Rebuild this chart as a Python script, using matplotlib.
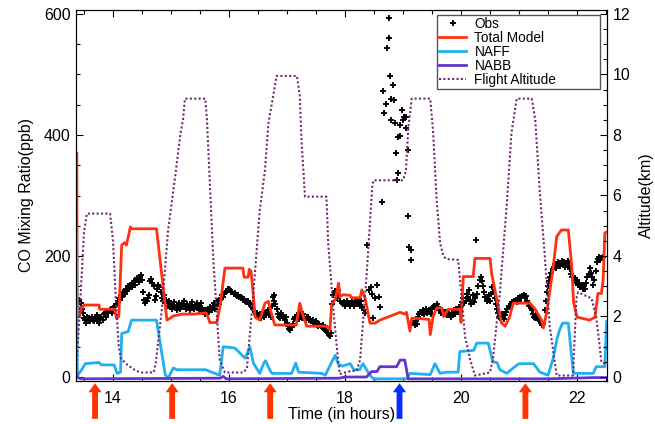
import matplotlib
matplotlib.use("Agg")
import matplotlib.pyplot as plt
from matplotlib.lines import Line2D
from matplotlib.ticker import MultipleLocator

plt.rcParams['font.family'] = ['Liberation Sans', 'DejaVu Sans']

# Observed CO (time in hours, ppb)
obs_points = [
    (13.40, 120), (13.42, 128), (13.44, 122), (13.46, 112), (13.48, 105), (13.50, 98),
    (13.52, 94), (13.54, 90), (13.56, 100), (13.58, 97), (13.60, 93), (13.62, 96),
    (13.64, 100), (13.66, 94), (13.68, 92), (13.70, 98), (13.72, 102), (13.74, 95),
    (13.76, 90), (13.78, 96), (13.80, 100), (13.82, 94), (13.84, 104), (13.86, 106),
    (13.88, 100), (13.90, 108), (13.92, 105), (13.94, 110), (13.96, 112), (13.98, 106),
    (14.00, 110), (14.02, 115), (14.04, 118), (14.06, 120), (14.08, 125),
    (14.10, 130), (14.12, 128), (14.14, 135), (14.16, 132), (14.18, 140), (14.20, 138),
    (14.22, 145), (14.24, 142), (14.26, 150), (14.28, 146), (14.30, 152), (14.32, 148),
    (14.34, 155), (14.36, 158), (14.38, 152), (14.40, 160), (14.42, 163), (14.44, 157),
    (14.46, 165), (14.48, 168), (14.50, 160), (14.52, 140), (14.54, 128), (14.56, 122),
    (14.58, 126), (14.60, 130), (14.62, 135), (14.64, 158), (14.66, 162), (14.68, 155),
    (14.70, 150), (14.72, 128), (14.74, 134), (14.76, 145), (14.78, 152), (14.80, 148),
    (14.82, 140), (14.84, 130), (14.86, 125), (14.88, 135), (14.90, 122), (14.92, 128),
    (14.94, 118), (14.96, 125), (14.98, 115),
    (15.00, 120), (15.02, 112), (15.04, 118), (15.06, 124), (15.08, 115), (15.10, 110),
    (15.12, 118), (15.14, 122), (15.16, 112), (15.18, 115), (15.20, 120), (15.22, 126),
    (15.24, 118), (15.26, 113), (15.28, 120), (15.30, 116), (15.32, 110), (15.34, 118),
    (15.36, 124), (15.38, 116), (15.40, 112), (15.42, 119), (15.44, 123), (15.46, 115),
    (15.48, 110), (15.50, 118), (15.52, 122), (15.54, 114), (15.56, 108), (15.58, 104),
    (15.60, 110), (15.62, 106), (15.64, 112), (15.66, 108), (15.68, 115), (15.70, 110),
    (15.72, 118), (15.74, 122), (15.76, 113), (15.78, 118), (15.80, 125), (15.82, 120),
    (15.84, 128), (15.86, 130), (15.88, 135), (15.90, 132), (15.92, 138), (15.94, 140),
    (15.96, 142), (15.98, 145), (16.00, 146), (16.02, 143), (16.04, 141), (16.06, 140),
    (16.08, 138), (16.10, 139), (16.12, 136), (16.14, 134), (16.16, 135), (16.18, 132),
    (16.20, 133), (16.22, 130), (16.24, 128), (16.26, 129), (16.28, 126), (16.30, 124),
    (16.32, 125), (16.34, 122), (16.36, 120), (16.38, 118), (16.40, 115), (16.42, 112),
    (16.44, 108), (16.46, 104), (16.48, 106), (16.50, 102), (16.52, 100), (16.54, 104),
    (16.56, 98), (16.58, 102), (16.60, 100), (16.62, 105), (16.64, 103), (16.66, 108),
    (16.68, 110), (16.70, 104), (16.72, 100), (16.74, 118), (16.76, 132), (16.77, 126),
    (16.78, 135), (16.80, 120), (16.82, 112), (16.84, 104), (16.86, 100), (16.88, 98),
    (16.90, 106), (16.92, 102), (16.94, 98), (16.96, 95), (16.98, 100), (17.00, 90),
    (17.02, 84), (17.04, 80), (17.06, 78), (17.08, 82), (17.10, 88), (17.12, 96),
    (17.14, 100), (17.16, 98), (17.18, 102), (17.20, 96), (17.22, 105), (17.24, 100),
    (17.26, 98), (17.28, 104), (17.30, 97), (17.32, 95), (17.34, 99), (17.36, 100),
    (17.38, 94), (17.40, 96), (17.42, 92), (17.44, 95), (17.46, 90), (17.48, 88),
    (17.50, 92), (17.52, 86), (17.54, 84), (17.56, 88), (17.58, 85), (17.60, 82),
    (17.62, 86), (17.64, 80), (17.66, 78), (17.68, 76), (17.70, 72), (17.72, 70),
    (17.74, 68), (17.76, 72), (17.78, 120), (17.80, 135), (17.82, 142), (17.84, 138),
    (17.86, 130), (17.88, 144), (17.90, 135), (17.92, 126), (17.94, 122), (17.96, 120),
    (17.98, 124), (18.00, 118), (18.02, 121), (18.04, 126), (18.06, 120), (18.08, 118),
    (18.10, 123), (18.12, 125), (18.14, 120), (18.16, 117), (18.18, 122), (18.20, 127),
    (18.22, 124), (18.24, 120), (18.26, 118), (18.28, 125), (18.30, 115), (18.32, 110),
    (18.34, 105), (18.38, 218), (18.41, 144), (18.44, 149), (18.47, 138), (18.49, 97),
    (18.52, 131), (18.55, 152), (18.58, 133), (18.60, 116),
    (18.64, 289), (18.66, 473), (18.68, 436), (18.71, 451), (18.73, 544), (18.75, 593),
    (18.76, 560), (18.78, 498), (18.79, 460), (18.80, 424), (18.82, 482), (18.84, 458),
    (18.86, 420), (18.88, 371), (18.89, 326), (18.91, 338), (18.92, 397), (18.94, 398),
    (18.95, 417), (18.99, 442), (19.00, 425), (19.02, 430), (19.05, 430), (19.06, 412),
    (19.08, 376), (19.09, 266), (19.11, 215), (19.13, 193), (19.14, 210),
    (19.18, 90), (19.20, 86), (19.22, 92), (19.24, 88), (19.26, 100), (19.28, 104),
    (19.30, 108), (19.32, 106), (19.34, 110), (19.36, 104), (19.38, 108), (19.40, 112),
    (19.42, 106), (19.44, 110), (19.46, 108), (19.48, 104), (19.50, 112), (19.52, 116),
    (19.54, 118), (19.56, 114), (19.58, 120), (19.60, 116), (19.62, 110), (19.64, 112),
    (19.66, 106), (19.68, 110), (19.70, 108), (19.72, 104), (19.74, 108), (19.76, 102),
    (19.78, 106), (19.80, 104), (19.82, 100), (19.84, 106), (19.86, 102), (19.88, 110),
    (19.90, 104), (19.92, 112), (19.94, 108), (19.96, 116), (19.98, 112),
    (20.00, 118), (20.02, 124), (20.04, 130), (20.06, 122), (20.08, 126), (20.10, 138),
    (20.12, 132), (20.14, 144), (20.16, 128), (20.18, 120), (20.20, 135), (20.22, 124),
    (20.24, 130), (20.26, 226), (20.28, 138), (20.30, 150), (20.32, 160), (20.34, 166),
    (20.36, 158), (20.38, 150), (20.40, 140), (20.42, 133), (20.44, 126), (20.46, 128),
    (20.48, 136), (20.50, 126), (20.52, 138), (20.54, 148), (20.56, 140), (20.58, 130),
    (20.60, 120), (20.62, 112), (20.64, 105), (20.66, 100), (20.68, 98), (20.70, 104),
    (20.72, 100), (20.74, 96), (20.76, 102), (20.78, 108), (20.80, 112), (20.82, 118),
    (20.84, 115), (20.86, 120), (20.88, 124), (20.90, 122), (20.92, 126), (20.94, 128),
    (20.96, 124), (20.98, 130), (21.00, 126), (21.02, 132), (21.04, 130), (21.06, 134),
    (21.08, 136), (21.10, 130), (21.12, 134), (21.14, 126), (21.16, 122), (21.18, 118),
    (21.20, 114), (21.22, 110), (21.24, 104), (21.26, 100), (21.28, 98), (21.30, 102),
    (21.32, 96), (21.34, 94), (21.36, 92), (21.38, 90), (21.40, 86), (21.42, 88),
    (21.44, 110), (21.46, 125), (21.48, 140), (21.50, 150), (21.52, 158), (21.54, 165),
    (21.56, 172), (21.58, 178), (21.60, 182), (21.62, 186), (21.64, 180), (21.66, 185),
    (21.68, 190), (21.70, 184), (21.72, 188), (21.74, 192), (21.76, 186), (21.78, 190),
    (21.80, 182), (21.82, 188), (21.84, 192), (21.86, 184), (21.88, 178), (21.90, 170),
    (21.92, 165), (21.94, 160), (21.96, 164), (21.98, 156), (22.00, 160), (22.02, 152),
    (22.04, 155), (22.06, 148), (22.08, 152), (22.10, 145), (22.12, 150), (22.14, 146),
    (22.16, 155), (22.18, 165), (22.20, 170), (22.22, 180), (22.24, 172), (22.26, 165),
    (22.28, 152), (22.30, 160), (22.32, 175), (22.34, 190), (22.36, 195), (22.38, 198),
    (22.40, 194), (22.42, 196), (22.44, 198),
]
obs_time = [p[0] for p in obs_points]
obs_co = [p[1] for p in obs_points]

# Total model CO (ppb)
total_time = [13.376, 13.382, 13.39, 13.42, 13.45, 13.50, 13.76, 13.77, 14.03, 14.06, 14.10,
              14.15, 14.20, 14.23, 14.26, 14.30, 14.32, 14.75, 14.93, 15.00, 15.04, 15.20,
              15.40, 15.60, 15.62, 15.67, 15.79, 15.85, 15.93, 16.24, 16.26, 16.33, 16.35,
              16.38, 16.42, 16.45, 16.53, 16.62, 16.68, 16.73, 16.79, 17.16, 17.22, 17.28,
              17.34, 17.69, 17.74, 17.77, 17.83, 17.89, 17.91, 17.97, 18.09, 18.11, 18.26,
              18.29, 18.35, 18.43, 18.52, 18.60, 18.95, 19.03, 19.06, 19.12, 19.15, 19.24,
              19.45, 19.47, 19.52, 19.58, 19.67, 19.70, 19.78, 19.98, 20.00, 20.04, 20.21,
              20.24, 20.50, 20.53, 20.62, 20.70, 20.76, 20.84, 20.90, 21.19, 21.28, 21.39,
              21.42, 21.48, 21.59, 21.65, 21.73, 21.85, 21.91, 21.94, 22.00, 22.22, 22.31,
              22.36, 22.42, 22.45, 22.48, 22.52]
total_co = [370, 120, 105, 100, 112, 119, 119, 112, 112, 97, 100,
            218, 222, 218, 230, 248, 245, 245, 94, 98, 101, 104,
            104, 106, 104, 90, 90, 120, 180, 180, 165, 165, 178,
            175, 135, 99, 94, 122, 125, 105, 86, 86, 122, 100,
            84, 84, 78, 120, 128, 155, 133, 136, 135, 131, 131,
            144, 129, 89, 89, 94, 107, 104, 107, 76, 97, 97,
            95, 70, 100, 114, 114, 100, 112, 112, 90, 166, 166,
            196, 196, 170, 127, 89, 84, 100, 122, 122, 112, 94,
            81, 108, 182, 232, 243, 243, 182, 124, 99, 94, 99,
            138, 138, 160, 238, 240]

# North American fossil fuel contribution (ppb)
naff_time = [13.376, 13.384, 13.40, 13.46, 13.52, 13.76, 13.80, 14.02, 14.07, 14.13, 14.15,
             14.26, 14.32, 14.75, 14.90, 14.95, 15.04, 15.10, 15.60, 15.70, 15.84, 15.90,
             16.10, 16.28, 16.36, 16.42, 16.53, 16.60, 16.63, 16.70, 16.74, 17.08, 17.15,
             17.20, 17.60, 17.66, 17.83, 17.88, 17.95, 18.09, 18.15, 18.25, 18.31, 18.43,
             18.49, 19.06, 19.12, 19.47, 19.55, 19.64, 19.75, 19.95, 19.98, 20.22, 20.27,
             20.47, 20.55, 20.62, 20.67, 20.79, 20.90, 21.00, 21.25, 21.36, 21.50, 21.59,
             21.65, 21.70, 21.75, 21.85, 21.90, 21.94, 22.28, 22.33, 22.48, 22.51]
naff_co = [235, 8, 4, 12, 22, 24, 20, 20, 6, 8, 72,
           75, 94, 94, 4, -2, 15, 12, 12, 8, 3, 50,
           48, 31, 50, 23, 6, 23, 27, 12, 6, 6, 23,
           8, 6, 3, 36, 22, 18, 22, 12, 12, 22, 3,
           -3, -3, 6, 4, 22, 6, 8, 8, 42, 44, 56,
           56, 25, 24, 12, 6, 15, 22, 22, 8, 3, 31,
           61, 78, 89, 89, 40, 6, 6, 17, 17, 92]

# North American biomass burning contribution (ppb)
nabb_time = [13.376, 13.39, 13.45, 15.85, 15.90, 15.95, 17.90, 18.00, 18.37, 18.46, 18.55,
             18.60, 18.89, 18.95, 19.03, 19.09, 21.50, 22.30, 22.52]
nabb_co = [5, -1, -3, -2, 1, -3, -2, 0, 0, 9, 9,
           17, 17, 28, 28, -3, -3, -1, -1]

# Aircraft altitude (km)
alt_time = [13.35, 13.37, 13.45, 13.50, 13.55, 13.95, 14.00, 14.05, 14.10, 14.14, 14.25,
            14.40, 14.50, 14.70, 14.74, 14.84, 14.95, 15.07, 15.16, 15.21, 15.24, 15.59,
            15.62, 15.73, 15.84, 15.93, 16.25, 16.31, 16.42, 16.53, 16.62, 16.68, 16.76,
            16.82, 17.17, 17.22, 17.25, 17.31, 17.68, 17.71, 17.80, 17.88, 17.91, 18.10,
            18.20, 18.26, 18.37, 18.47, 18.49, 19.00, 19.05, 19.09, 19.15, 19.47, 19.52,
            19.58, 19.64, 19.70, 19.75, 19.95, 19.98, 20.07, 20.16, 20.24, 20.50, 20.55,
            20.67, 20.79, 20.87, 20.96, 21.22, 21.28, 21.36, 21.45, 21.53, 21.65, 21.93,
            21.99, 22.02, 22.25, 22.33, 22.38, 22.42, 22.52]
alt_km = [0.1, 0.3, 3.0, 4.8, 5.4, 5.4, 4.5, 2.5, 1.0, 0.6, 0.4,
          0.2, 0.15, 0.15, 0.5, 2.2, 4.86, 6.6, 8.0, 8.55, 9.2, 9.2,
          8.5, 3.87, 0.56, 0.15, 0.15, 0.3, 2.77, 5.5, 6.84, 8.4, 9.27,
          9.95, 9.95, 9.3, 7.83, 5.96, 5.96, 4.42, 2.2, 0.56, 0.1, 0.2,
          0.2, 0.56, 3.3, 6.3, 6.5, 6.5, 6.8, 8.2, 9.2, 9.2, 8.07,
          5.85, 4.42, 3.98, 3.9, 3.87, 3.3, 1.33, 0.56, 0.05, 0.15, 0.6,
          2.77, 5.74, 8.07, 9.2, 9.2, 8.5, 6.07, 3.87, 1.66, 0.05, 0.05,
          2.6, 2.8, 2.6, 2.0, 1.2, 0.5, 0.4]

# Times of marked events below the axis
event_times = [13.69, 15.02, 16.71, 18.94, 21.11]
event_colors = ['#ff3300', '#ff3300', '#ff3300', '#0a2cff', '#ff3300']

c_total = '#ff3010'
c_naff = '#1eb0f0'
c_nabb = '#6633cc'
c_alt = '#6e2a6e'

fig = plt.figure(figsize=(6.55, 4.24), dpi=100)
ax = fig.add_axes([76 / 655, 1 - 381 / 424, 531 / 655, 371 / 424])
ax2 = ax.twinx()

obs_style = dict(linestyle='none', marker='+', markersize=4.8, markeredgewidth=1.35, color='black')
ax.plot(obs_time, obs_co, zorder=3, **obs_style)
ax.plot(total_time, total_co, color=c_total, lw=2.0, zorder=4)
ax.plot(naff_time, naff_co, color=c_naff, lw=2.0, zorder=4)
ax.plot(nabb_time, nabb_co, color=c_nabb, lw=2.0, zorder=4)
alt_style = dict(color=c_alt, lw=1.5, linestyle=(0, (1, 1.1)))
ax2.plot(alt_time, alt_km, **alt_style)

ax.set_xlim(13.362, 22.517)
ax.set_ylim(-6.6, 606.6)
ax2.set_ylim(-0.132, 12.13)

ax.xaxis.set_major_locator(MultipleLocator(2))
ax.xaxis.set_minor_locator(MultipleLocator(0.5))
ax.yaxis.set_major_locator(MultipleLocator(200))
ax.yaxis.set_minor_locator(MultipleLocator(50))
ax2.yaxis.set_major_locator(MultipleLocator(2))
ax2.yaxis.set_minor_locator(MultipleLocator(0.5))

fs = 11.5
ax.tick_params(axis='x', which='both', direction='in', top=True, labelsize=fs, pad=7)
ax.tick_params(axis='y', which='both', direction='in', right=False, labelsize=fs, pad=4)
ax2.tick_params(axis='y', which='both', direction='in', labelsize=fs, pad=4)
for a in (ax, ax2):
    a.tick_params(which='major', length=5, width=0.8)
    a.tick_params(which='minor', length=3, width=0.8)

ax.set_ylabel('CO Mixing Ratio(ppb)', fontsize=fs, labelpad=7)
ax2.set_ylabel('Altitude(km)', fontsize=fs, labelpad=6)
ax.set_xlabel('Time (in hours)', fontsize=fs, labelpad=1)

for t, c in zip(event_times, event_colors):
    ax.annotate('', xy=(t, -0.006), xycoords=ax.get_xaxis_transform(),
                xytext=(t, -0.102), textcoords=ax.get_xaxis_transform(),
                arrowprops=dict(arrowstyle='simple,head_length=0.65,head_width=0.95,tail_width=0.42',
                                mutation_scale=10, color=c, shrinkA=0, shrinkB=0, lw=0),
                annotation_clip=False)

handles = [
    Line2D([], [], **obs_style),
    Line2D([], [], color=c_total, lw=2.0),
    Line2D([], [], color=c_naff, lw=2.0),
    Line2D([], [], color=c_nabb, lw=2.0),
    Line2D([], [], **alt_style),
]
labels = ['Obs', 'Total Model', 'NAFF', 'NABB', 'Flight Altitude']
leg_x0 = (437 - 76) / 531
leg_w = 163 / 531
leg_top = 0.9865
leg_h = 71 / 371
leg = ax2.legend(handles, labels, loc='upper left',
                 bbox_to_anchor=(leg_x0, leg_top - leg_h, leg_w, leg_h),
                 mode='expand', borderaxespad=0, fontsize=9.8, frameon=True,
                 fancybox=False, framealpha=1, edgecolor='#555555',
                 handlelength=2.0, handletextpad=0.6, labelspacing=0.0,
                 borderpad=0.15)
leg.get_frame().set_linewidth(1.0)

fig.savefig('out.png', dpi=100)
